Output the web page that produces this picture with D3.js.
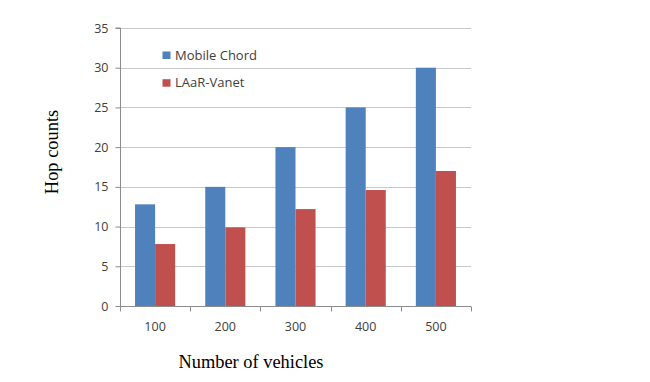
<!DOCTYPE html>
<html><head><meta charset="utf-8">
<script src="https://cdn.jsdelivr.net/npm/d3@7"></script>
<style>body{margin:0;background:#fff;}svg{display:block;}</style>
</head><body>
<svg id="chart" width="650" height="382"></svg>
<script>
const categories = ["100", "200", "300", "400", "500"];
const seriesNames = ["Mobile Chord", "LAaR-Vanet"];
const mobileChord = [12.8, 15, 20, 25, 30];
const laarVanet = [7.8, 9.9, 12.2, 14.6, 17];
const yTicks = [0, 5, 10, 15, 20, 25, 30, 35];
const colors = ["#4F81BD", "#C0504D"];

(function () {
const svg = d3.select("#chart");
const mLeft = 120, mRight = 471, mTop = 28, mBottom = 306;

const x = d3.scaleBand().domain(categories).range([mLeft, mRight]).paddingInner(0).paddingOuter(0);
const inner = d3.scaleBand().domain(seriesNames).range([0, x.bandwidth()]).paddingInner(0).paddingOuter(0.75);
const y = d3.scaleLinear().domain([0, 35]).range([mBottom, mTop]);

// gridlines
svg.append("g").selectAll("line").data(yTicks.filter(d => d > 0)).join("line")
  .attr("x1", mLeft).attr("x2", mRight)
  .attr("y1", d => Math.round(y(d)) + 0.5).attr("y2", d => Math.round(y(d)) + 0.5)
  .attr("stroke", "#c8c8c8").attr("stroke-width", 1);

// bars
const data = [mobileChord, laarVanet];
data.forEach((vals, si) => {
  svg.append("g").selectAll("rect").data(vals).join("rect")
    .attr("x", (d, i) => x(categories[i]) + inner(seriesNames[si]))
    .attr("width", inner.bandwidth())
    .attr("y", d => y(d))
    .attr("height", d => y(0) - y(d))
    .attr("fill", colors[si]);
});

// y axis
const yAxis = d3.axisLeft(y).tickValues(yTicks).tickSize(5).tickPadding(7).tickFormat(d3.format("d"));
const yg = svg.append("g").attr("transform", `translate(${mLeft + 0.5},0)`).call(yAxis);
yg.selectAll("path, line").attr("stroke", "#8c8c8c");
yg.select(".domain").attr("d", `M-5,${y(35)}H0V${y(0)}`);
yg.selectAll("text").attr("font-family", "'Open Sans', sans-serif").attr("font-size", 12.5).attr("fill", "#404040");

// x axis
const xg = svg.append("g").attr("transform", `translate(0,${mBottom + 0.5})`);
xg.append("line").attr("x1", mLeft).attr("x2", mRight).attr("stroke", "#8c8c8c");
const bounds = categories.map(c => x(c)).concat([x(categories[categories.length - 1]) + x.bandwidth()]);
xg.selectAll("line.tk").data(bounds).join("line").attr("class", "tk")
  .attr("x1", d => Math.round(d) + 0.5).attr("x2", d => Math.round(d) + 0.5)
  .attr("y1", 0).attr("y2", 5).attr("stroke", "#8c8c8c");
xg.selectAll("text").data(categories).join("text")
  .attr("x", d => x(d) + x.bandwidth() / 2).attr("y", 24.5)
  .attr("text-anchor", "middle")
  .attr("font-family", "'Open Sans', sans-serif").attr("font-size", 12.5).attr("fill", "#404040")
  .text(d => d);

// legend
const lg = svg.append("g");
seriesNames.forEach((n, i) => {
  const ly = 51.5 + i * 27.7;
  lg.append("rect").attr("x", 162.5).attr("y", ly).attr("width", 8).attr("height", 7.5).attr("fill", colors[i]);
  lg.append("text").attr("x", 175).attr("y", ly + 8)
    .attr("font-family", "'Open Sans', sans-serif").attr("font-size", 13).attr("fill", "#404040").text(n);
});

// axis titles
svg.append("text").attr("transform", "translate(58,152) rotate(-90)")
  .attr("text-anchor", "middle").attr("font-family", "'Liberation Serif', 'Times New Roman', serif")
  .attr("font-size", 18.4).attr("fill", "#000").text("Hop counts");
svg.append("text").attr("x", 251).attr("y", 368)
  .attr("text-anchor", "middle").attr("font-family", "'Liberation Serif', 'Times New Roman', serif")
  .attr("font-size", 18.4).attr("fill", "#000").text("Number of vehicles");
})();
</script>
</body></html>
